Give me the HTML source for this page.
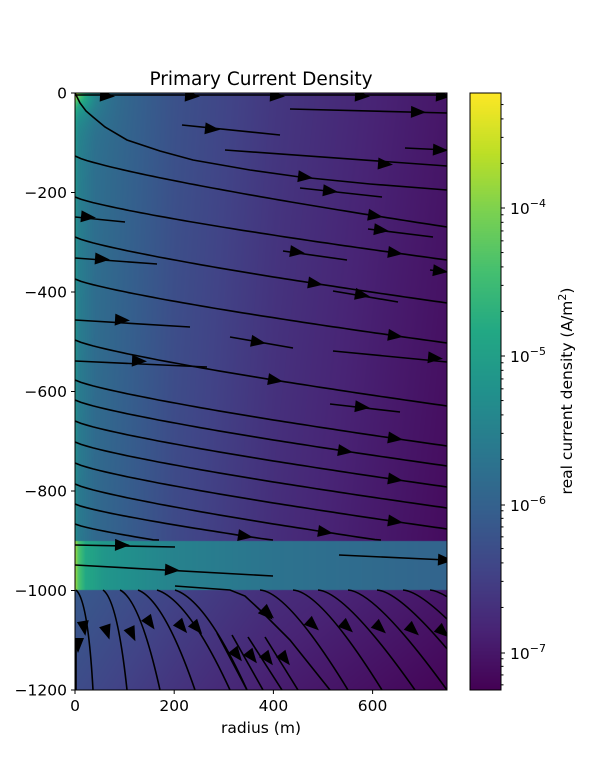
<!DOCTYPE html>
<html><head><meta charset="utf-8"><style>
body{margin:0;background:#fff;}
#wrap{position:relative;width:600px;height:775px;overflow:hidden;font-family:"DejaVu Sans","Liberation Sans",sans-serif;}
canvas{position:absolute;}
svg{position:absolute;left:0;top:0;}
</style></head><body><div id="wrap">
<canvas id="hm" width="372" height="597" style="left:75px;top:93px"></canvas>
<canvas id="cb" width="31" height="597" style="left:470px;top:93px"></canvas>
<svg id="s" width="600" height="775" font-family="DejaVu Sans, Liberation Sans, sans-serif">
<defs><clipPath id="cp"><rect x="75" y="93" width="372" height="597"/></clipPath></defs>
<g clip-path="url(#cp)">
<g id="lines" fill="none" stroke="#000" stroke-width="1.6"></g>
<g id="arrows" fill="#000"></g>
</g>
<rect x="75" y="93" width="372" height="597" fill="none" stroke="#000" stroke-width="1"/>
<rect x="470" y="93" width="31" height="597" fill="none" stroke="#000" stroke-width="1"/>
<g id="ticks" stroke="#000" stroke-width="1"></g>
<g id="tl" font-size="15.5" fill="#000"></g>
<text x="261" y="85" font-size="18.5" text-anchor="middle">Primary Current Density</text>
<text x="261" y="733" font-size="15.5" text-anchor="middle">radius (m)</text>
<text transform="translate(-5,391) rotate(-90)" font-size="15.5" text-anchor="middle">depth (m)</text>
<text transform="translate(572,391) rotate(-90)" font-size="15.5" text-anchor="middle">real current density (A/m<tspan font-size="11" dy="-6">2</tspan><tspan dy="6">)</tspan></text>
</svg>
</div>
<script>
const V=[[68,1,84],[72,36,117],[65,68,135],[53,95,141],[42,120,142],[33,145,140],[34,168,132],[68,191,112],[122,209,81],[189,223,38],[253,231,37]];
function vir(t){t=Math.max(0,Math.min(1,t));let f=t*10,i=Math.min(9,Math.floor(f)),u=f-i;return V[i].map((c,k)=>Math.round(c+(V[i+1][k]-c)*u));}
function interp(tb,x){if(x<=tb[0][0])return tb[0][1];for(let i=1;i<tb.length;i++){if(x<=tb[i][0]){let a=tb[i-1],b=tb[i];return a[1]+(b[1]-a[1])*(x-a[0])/(b[0]-a[0]);}}return tb[tb.length-1][1];}
const TOP=[[0,0.52],[3,0.44],[20,0.37],[100,0.25],[200,0.16],[300,0.1],[372,0.06]];
const BAND=[[0,0.85],[3,0.72],[10,0.6],[30,0.52],[100,0.44],[200,0.38],[372,0.32]];
const BOT=[[0,0.28],[100,0.2],[200,0.13],[372,0.06]];
const c=document.getElementById('hm').getContext('2d');const img=c.createImageData(372,597);
for(let py=0;py<597;py++){const y=py+93;for(let px=0;px<372;px++){let t;
if(y<541){t=interp(TOP,px)-0.03*py/448+0.45*Math.exp(-Math.sqrt(px*px+py*py)/12);}
else if(y<590){t=interp(BAND,px);}
else{t=interp(BOT,px)-0.05*(y-590)/100;}
const col=vir(t),o=(py*372+px)*4;img.data[o]=col[0];img.data[o+1]=col[1];img.data[o+2]=col[2];img.data[o+3]=255;}}
c.putImageData(img,0,0);
const cb=document.getElementById('cb').getContext('2d');const ci=cb.createImageData(31,597);
for(let py=0;py<597;py++){const col=vir(1-py/596);for(let px=0;px<31;px++){const o=(py*31+px)*4;ci.data[o]=col[0];ci.data[o+1]=col[1];ci.data[o+2]=col[2];ci.data[o+3]=255;}}
cb.putImageData(ci,0,0);
const NS='http://www.w3.org/2000/svg';
function el(p,tag,at,txt){const e=document.createElementNS(NS,tag);for(const k in at)e.setAttribute(k,at[k]);if(txt!==undefined)e.textContent=txt;document.getElementById(p).appendChild(e);return e;}
for(let k=0;k<=6;k++){const y=93+k*99.5;el('ticks','line',{x1:71,y1:y,x2:75,y2:y});el('tl','text',{x:67,y:y+5.5,'text-anchor':'end'},k==0?'0':'\u2212'+(k*200));}
[[0,75],[200,174.2],[400,273.4],[600,372.6]].forEach(([v,x])=>{el('ticks','line',{x1:x,y1:690,x2:x,y2:694});el('tl','text',{x:x,y:711,'text-anchor':'middle'},v);});
const maj=[[208,'4'],[356,'5'],[505,'6'],[653,'7']];
maj.forEach(([y,e])=>{el('ticks','line',{x1:501,y1:y,x2:505,y2:y});const t=el('tl','text',{x:510,y:y+6});t.innerHTML='10<tspan font-size="11" dy="-7">\u2212'+e+'</tspan>';});
for(let d=-1;d<4;d++){const base=208+148*(d+1);for(let m=2;m<=9;m++){const y=base-148*Math.log10(m);if(y>93&&y<690)el('ticks','line',{x1:501,y1:y,x2:503.5,y2:y});}}
function path(pts){el('lines','path',{d:'M'+pts.map(p=>p[0].toFixed(1)+','+p[1].toFixed(1)).join(' L')});}
function arrow(x,y,a){el('arrows','path',{d:'M-7,-6 L8,0 L-7,6Z',transform:`translate(${x},${y}) rotate(${a})`});}
function seg(x1,y1,x2,y2,ax,ay){path([[x1,y1],[x2,y2]]);arrow(ax,ay,Math.atan2(y2-y1,x2-x1)*180/Math.PI);}
path([[75,93],[80,103],[86,111],[93,117],[105,127],[127,140],[160,151],[193,160],[250,170],[300,177],[370,184],[447,190]]);arrow(305,177,7);
const longs=[[156,71,300],[197,63,320],[237,66,240],[279,64,320],[340,66,200],[380,66,320],[400,66,270],[421,66,320],[442,66,420],[463,66,320],[484,66,250],[504,60,170],[524,55,120]];
longs.forEach(([y0,D,ax])=>{const pts=[];let stop=false;for(let px=0;px<=372&&!stop;px+=6){let y=y0+D*Math.pow(px/372,0.8);if(y>=540){y=540;stop=true;}pts.push([75+px,y]);}
path(pts);if(ax+75<pts[pts.length-1][0]){const y=y0+D*Math.pow(ax/372,0.8),y2=y0+D*Math.pow((ax+4)/372,0.8);arrow(75+ax,y,Math.atan2(y2-y,4)*180/Math.PI);}});
path([[75,95],[447,95]]);[107,192,277,362,443].forEach(x=>arrow(x,96,3));
seg(290,109,447,113,418,112);seg(182,125,280,135,212,129);seg(225,150,447,166,385,164);seg(405,148,447,150,440,150);
seg(300,188,382,197,330,191);seg(368,229,433,237,381,230);seg(283,251,347,260,297,252);seg(75,217,125,222,88,217);
seg(75,258,157,264,102,259);seg(333,291,398,302,362,295);seg(75,320,190,327,122,320);seg(230,337,293,348,258,342);
seg(333,351,447,362,435,358);seg(75,361,207,367,139,361);seg(330,404,400,412,362,407);seg(430,270,447,272,440,271);
seg(75,545,175,547,122,545);seg(75,565,273,576,172,570);seg(339,555,447,560,445,560);
path([[175,586],[230,590],[245,596],[260,610],[290,640],[330,690]]);arrow(267,614,45);
[[76,93],[103,127],[120,160],[138,195],[157,230],[175,247]].forEach(([xs,xe])=>{el('lines','path',{d:`M${xs},590 Q${xs+(xe-xs)*0.35+6},600 ${xe},690`});});
[[107,632,72],[132,634,65],[150,623,55],[182,627,50],[197,628,50]].forEach(a=>arrow(a[0],a[1],a[2]));
path([[76,640],[76,690]]);arrow(78,645,90);arrow(84,628,80);
[[217,633,247],[232,635,263],[248,637,282],[265,637,298]].forEach(([xs,ys,xe])=>{path([[xs,ys],[xe,690]]);arrow(xs+20,ys+22,52);});
[[260,348],[293,382],[318,415],[348,447],[377,480],[403,510],[430,540]].forEach(([xs,xe])=>{el('lines','path',{d:`M${xs},590 Q${xs+28},592 ${xe},690`});});
[[268,613],[313,625],[347,627],[380,628],[413,630],[443,632]].forEach(a=>arrow(a[0],a[1],42));
</script>
</body></html>
